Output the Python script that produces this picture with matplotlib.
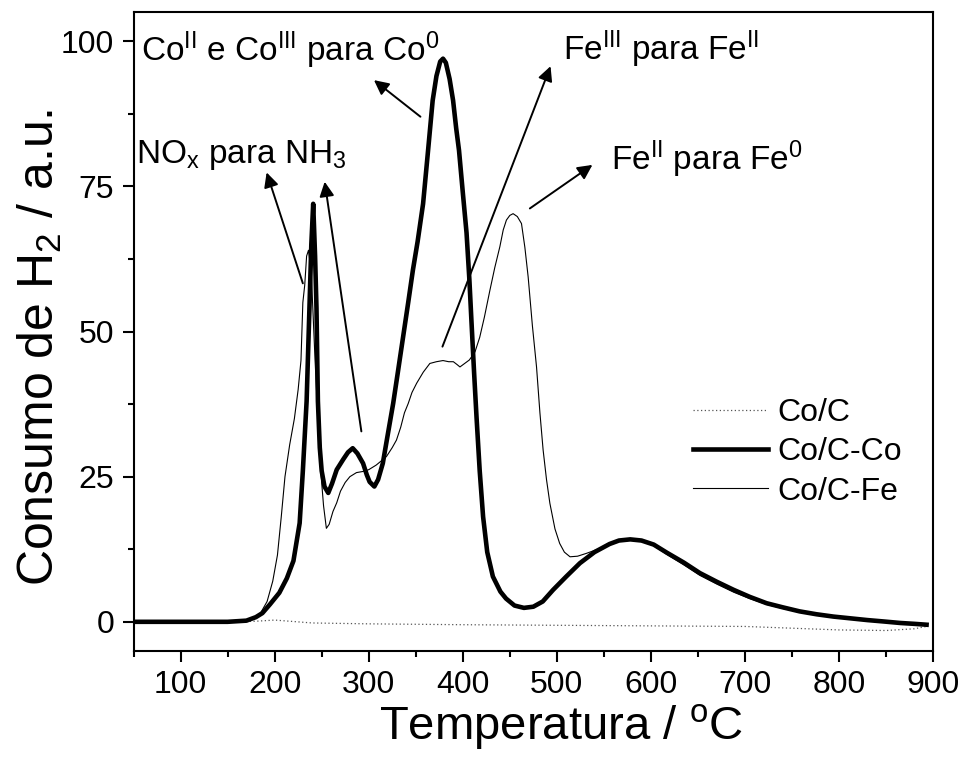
import numpy as np
import matplotlib
matplotlib.use("Agg")
import matplotlib.pyplot as plt

plt.rcParams['font.family'] = ['Liberation Sans', 'DejaVu Sans']
plt.rcParams['mathtext.fontset'] = 'custom'
plt.rcParams['mathtext.rm'] = 'Liberation Sans'
plt.rcParams['mathtext.it'] = 'Liberation Sans'

# Co/C (dotted)
t_c = [50, 100, 150, 180, 200, 240, 300, 400, 500, 600, 700, 750, 800, 850, 880, 893]
y_c = [0, 0, 0, 0.1, 0.3, -0.2, -0.35, -0.5, -0.6, -0.7, -0.8, -1.1, -1.4, -1.5, -1.2, -0.8]

# Co/C-Co (thick)
t_co = [50, 100, 150, 170, 180, 187, 195, 205, 213, 220, 226.6, 230, 234, 237, 239, 241,
        243, 244.5, 246, 248, 250, 253, 257, 261, 266, 273, 278, 283, 288, 294, 298, 301,
        306, 310, 315, 320, 326, 331, 336.5, 342, 347, 352, 357.8, 363, 368, 372, 376, 379,
        382, 386, 389.7, 393, 396, 400, 404, 407, 409, 412, 414.6, 418, 421.6, 426, 432,
        440, 446, 455, 465, 475, 485, 496, 510, 524.5, 540, 556, 566, 578, 590, 603, 617,
        635, 652, 670, 688, 705, 723, 740, 758, 776, 794, 812, 830, 848, 865, 880, 893]
y_co = [0, 0, 0, 0.2, 0.8, 1.5, 3, 5, 7.5, 10.5, 17, 26, 38, 54, 65, 72,
        63, 54, 38, 30, 26, 23.3, 22.2, 23.8, 26.2, 28, 29.2, 29.9, 29, 27.3, 25.3, 24.1,
        23.3, 24.5, 27.3, 32, 37.6, 43, 49, 55, 60.6, 65.5, 72, 81, 89.8, 94, 96.5, 97,
        96.3, 93.5, 89.8, 85, 81.2, 74, 67, 59, 52.5, 43, 35.3, 26, 18.1, 12, 7.8,
        5.2, 4.0, 2.8, 2.4, 2.6, 3.5, 5.5, 7.8, 10.1, 12, 13.4, 14, 14.2, 14, 13.3, 11.9,
        10.2, 8.4, 6.9, 5.5, 4.3, 3.2, 2.5, 1.8, 1.3, 0.9, 0.6, 0.3, 0.05, -0.2, -0.35, -0.5]

# Co/C-Fe (thin)
t_fe = [50, 100, 150, 170, 180, 185, 192, 198, 203, 207, 211, 216, 221, 225, 228, 230,
        232, 234, 236, 239, 243, 246, 249, 252, 255, 258, 262, 266, 270, 275, 280, 287,
        294, 300, 308, 314, 319, 325, 329.5, 334, 338, 342, 346, 351, 358, 365, 372, 379,
        385, 390, 394, 397, 402, 407, 413, 418, 423, 428.7, 434, 439.4, 443, 446.4, 450,
        453.5, 458, 462.4, 466, 469.5, 474, 478.4, 482, 485.4, 489, 492.6, 498, 503, 508,
        514, 522, 531.6, 540, 546, 555, 566, 578, 590, 603, 617, 635, 652, 670, 688, 705,
        723, 740, 758, 776, 794, 812, 830, 848, 865, 880, 893]
y_fe = [0, 0, 0, 0.2, 0.8, 1.5, 3.5, 7, 11.5, 18, 25, 30.5, 35, 40, 45, 55,
        58, 63, 64, 60, 45, 35, 26, 20, 16.1, 16.8, 19, 20.5, 22.5, 24, 25, 25.7,
        25.9, 26.2, 27, 27.8, 28.5, 30, 31.3, 33.5, 36, 37.6, 39.5, 41.1, 43, 44.5, 44.8, 45,
        44.8, 44.8, 44.3, 43.9, 44.5, 45.1, 46.5, 49, 52.5, 57, 61, 64.6, 67.5, 69.2, 70,
        70.3, 69.8, 68.6, 64.5, 59.4, 51, 43.9, 36, 29.6, 24.5, 20.4, 16, 13.5, 12,
        11.2, 11.3, 11.8, 12.3, 12.7, 13.3, 13.9, 14.1, 13.9, 13.1, 11.6, 9.8, 8.0, 6.5, 5.1, 4.0,
        3.0, 2.3, 1.7, 1.2, 0.8, 0.5, 0.25, 0.0, -0.2, -0.35, -0.5]

fig = plt.figure(figsize=(9.64, 7.63), dpi=100)
ax = fig.add_axes([0.1385, 0.147, 0.8295, 0.837])

ax.plot(t_c, y_c, color='#555555', lw=0.9, ls=(0, (1, 2)), label='Co/C')
ax.plot(t_co, y_co, color='black', lw=3.3, label='Co/C-Co')
ax.plot(t_fe, y_fe, color='black', lw=0.8, label='Co/C-Fe')

ax.set_xlim(50, 900)
ax.set_ylim(-5, 105)
ax.set_xticks(range(100, 901, 100))
ax.set_xticks(range(50, 901, 50), minor=True)
ax.set_yticks([0, 25, 50, 75, 100])
ax.set_yticks(np.arange(0, 101, 12.5), minor=True)
ax.tick_params(which='major', direction='out', length=8, width=1.5, labelsize=23, pad=6)
ax.tick_params(which='minor', direction='out', length=4, width=1.5)
for s in ax.spines.values():
    s.set_linewidth(1.5)

ax.set_xlabel(r'Temperatura / $^{\rm o}$C', fontsize=34)
ax.xaxis.set_label_coords(0.535, -0.08)
ax.set_ylabel(r'Consumo de H$_2$ / a.u.', fontsize=36)
ax.yaxis.set_label_coords(-0.087, 0.476)

arrow = dict(arrowstyle='-|>', mutation_scale=22, lw=1.4, color='black', shrinkA=0, shrinkB=0)
fs = 24
ax.annotate('', xy=(305.6, 93.3), xytext=(355, 87), arrowprops=arrow)
ax.text(58, 96.6, r'Co$^{\rm II}$ e Co$^{\rm III}$ para Co$^0$', fontsize=fs, va='baseline')
ax.annotate('', xy=(191.5, 77.4), xytext=(230, 58.3), arrowprops=arrow)
ax.annotate('', xy=(253.2, 75.8), xytext=(292.2, 32.8), arrowprops=arrow)
ax.text(53, 79, r'NO$_{\rm x}$ para NH$_3$', fontsize=fs, va='baseline')
ax.annotate('', xy=(493.3, 95.7), xytext=(378.4, 47.4), arrowprops=arrow)
ax.text(507, 96.8, r'Fe$^{\rm III}$ para Fe$^{\rm II}$', fontsize=fs, va='baseline')
ax.annotate('', xy=(537.8, 78.7), xytext=(471.3, 71.2), arrowprops=arrow)
ax.text(558, 77.8, r'Fe$^{\rm II}$ para Fe$^0$', fontsize=fs, va='baseline')

leg = ax.legend(loc='upper left', bbox_to_anchor=(693 / 964, 1 - 398 / 763),
                bbox_transform=fig.transFigure, frameon=False, fontsize=23,
                handlelength=2.35, handletextpad=0.3, labelspacing=0.29,
                borderpad=0, borderaxespad=0)

fig.savefig('out.png', dpi=100)
